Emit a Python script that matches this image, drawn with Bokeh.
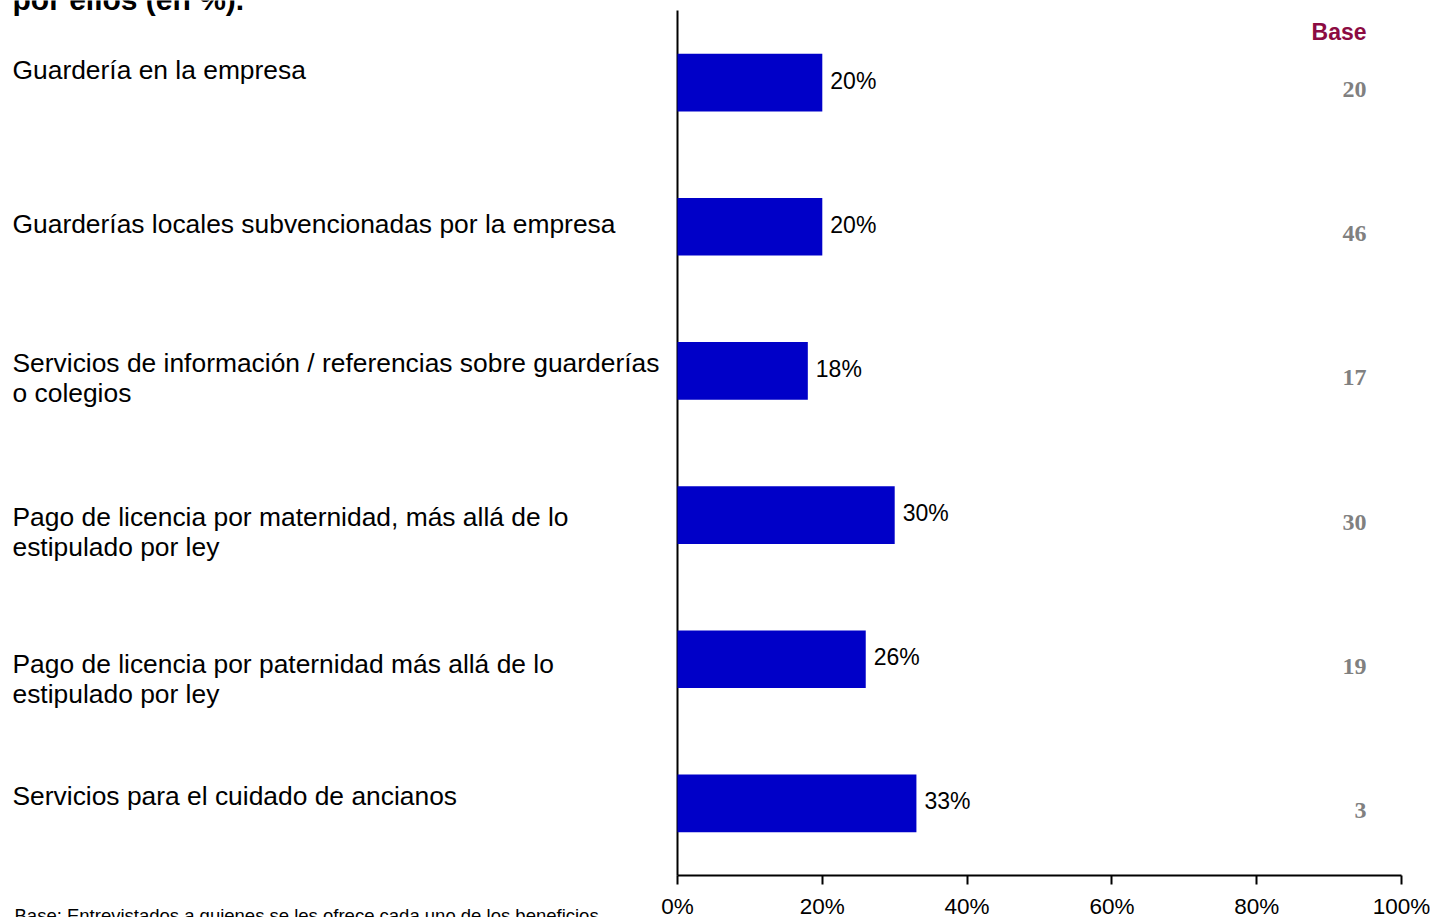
from bokeh.plotting import figure
from bokeh.models import Range1d, FixedTicker, PrintfTickFormatter, LinearAxis
from bokeh.embed import file_html
from bokeh.resources import INLINE
from bokeh.core.properties import value

# ---- data ----
categories = [
    "Guardería en la empresa",
    "Guarderías locales subvencionadas por la empresa",
    "Servicios de información / referencias sobre guarderías\no colegios",
    "Pago de licencia por maternidad, más allá de lo\nestipulado por ley",
    "Pago de licencia por paternidad más allá de lo\nestipulado por ley",
    "Servicios para el cuidado de ancianos",
]
percent = [20, 20, 18, 30, 26, 33]
base_n = [20, 46, 17, 30, 19, 3]
x_ticks = [0, 20, 40, 60, 80, 100]
title_text = "por ellos (en %)."
base_header = "Base"
footnote = "Base: Entrevistados a quienes se les ofrece cada uno de los beneficios"

# ---- layout constants (pixels) ----
W, H = 1430, 917
X0_PX, X100_PX = 677.0, 1401.0        # canvas x of 0 % and 100 %
AX_TOP_PX, AX_BOT_PX = 10.0, 875.0    # canvas y of top / bottom of the category axis
PX_PER_X = (X100_PX - X0_PX) / (x_ticks[-1] - x_ticks[0])
n = len(categories)
PX_PER_Y = (AX_BOT_PX - AX_TOP_PX) / n

x_range = Range1d(-X0_PX / PX_PER_X, (W - X0_PX) / PX_PER_X)
y_range = Range1d(-(H - AX_BOT_PX) / PX_PER_Y, n + AX_TOP_PX / PX_PER_Y)

LABEL_X = (12 - X0_PX) / PX_PER_X
FOOT_X = (14 - X0_PX) / PX_PER_X
BASE_X = (1366 - X0_PX) / PX_PER_X
# small vertical nudges (px) of the category text boxes relative to their bars
LABEL_NUDGE = [-13, -3, 7, 17, 20, -7]

BAR_COLOR = "#0000C8"
BASE_COLOR = "#8C0B42"
SANS = "Liberation Sans"

# category centre positions (top category first)
y_pos = [n - i - 0.5 for i in range(n)]

p = figure(
    width=W, height=H,
    x_range=x_range, y_range=y_range,
    output_backend="svg", toolbar_location=None,
    x_axis_location=None, y_axis_location=None, min_border=0,
    outline_line_color=None, background_fill_color="white",
)
p.xgrid.visible = False
p.ygrid.visible = False

ax = LinearAxis(fixed_location=0)
ax.ticker = FixedTicker(ticks=x_ticks, minor_ticks=[])
ax.formatter = PrintfTickFormatter(format="%d%%")
ax.bounds = (x_ticks[0], x_ticks[-1])
ax.axis_line_color = "black"
ax.axis_line_width = 2
ax.major_tick_line_color = "black"
ax.major_tick_line_width = 2
ax.major_tick_out = 9
ax.major_tick_in = 0
ax.minor_tick_line_color = None
ax.major_label_text_font = SANS
ax.major_label_text_font_size = "22.5px"
ax.major_label_text_color = "black"
ax.major_label_standoff = 9
p.add_layout(ax, "below")

# vertical category axis line at 0 %
p.segment(x0=[x_ticks[0]], y0=[0], x1=[x_ticks[0]], y1=[n], line_color="black", line_width=2)

# bars
p.hbar(y=y_pos, left=0, right=percent, height=0.4, color=BAR_COLOR, line_color=None)

# value labels
p.text(x=percent, y=y_pos, text=[f"{v}%" for v in percent],
       x_offset=8, y_offset=-2, text_baseline="middle", text_align="left",
       text_font=value(SANS), text_font_size="23px", text_color="black")

# category labels
p.text(x=[LABEL_X] * n, y=y_pos, text=categories, y_offset=LABEL_NUDGE,
       text_baseline="middle", text_align="left",
       text_font=value(SANS), text_font_size="26.4px", text_color="black",
       text_line_height=1.0)

# base column
p.text(x=[BASE_X] * n, y=y_pos, text=[str(b) for b in base_n],
       y_offset=7, text_baseline="middle", text_align="right",
       text_font=value("Liberation Serif"), text_font_style="bold",
       text_font_size="24px", text_color="#808080")
p.text(x=[BASE_X], y=[y_pos[0]], text=[base_header],
       y_offset=-51, text_baseline="middle", text_align="right",
       text_font=value(SANS), text_font_style="bold",
       text_font_size="23px", text_color=BASE_COLOR)

# title (cut at the top, as in the reference)
p.text(x=[LABEL_X], y=[n], text=[title_text],
       y_offset=-11, text_baseline="alphabetic", text_align="left",
       text_font=value(SANS), text_font_style="bold",
       text_font_size="30px", text_color="black")

# footnote (cut at the bottom, as in the reference)
p.text(x=[FOOT_X], y=[0], text=[footnote],
       y_offset=29, text_baseline="top", text_align="left",
       text_font=value(SANS), text_font_size="18.5px", text_color="black")

open("out.html", "w").write(file_html(p, INLINE))
